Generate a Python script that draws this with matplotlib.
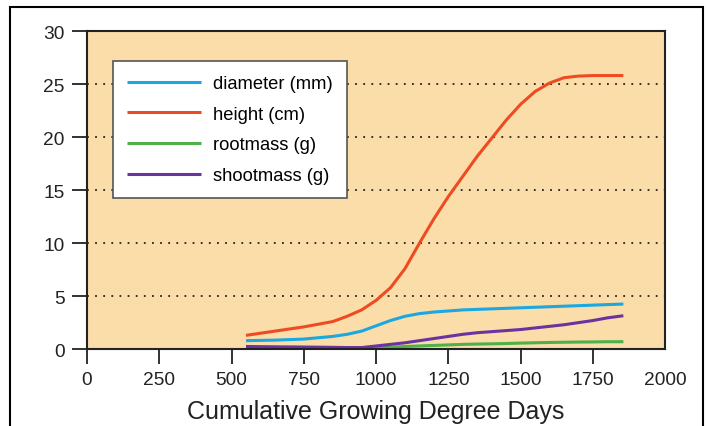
import matplotlib
matplotlib.use("Agg")
import matplotlib.pyplot as plt
from matplotlib.patches import Rectangle

plt.rcParams["font.family"] = ["Liberation Sans", "DejaVu Sans"]

# values
gdd = [550, 650, 750, 850, 900, 950, 1000, 1050, 1100, 1150, 1200, 1250, 1300,
       1350, 1400, 1450, 1500, 1550, 1600, 1650, 1700, 1750, 1800, 1855]
height = [1.3, 1.7, 2.1, 2.6, 3.1, 3.7, 4.6, 5.8, 7.6, 10.0, 12.3, 14.4, 16.3,
          18.2, 19.9, 21.6, 23.1, 24.3, 25.1, 25.6, 25.75, 25.8, 25.8, 25.8]
diameter = [0.8, 0.85, 0.95, 1.2, 1.4, 1.7, 2.2, 2.7, 3.1, 3.35, 3.5, 3.6, 3.7,
            3.75, 3.8, 3.85, 3.9, 3.95, 4.0, 4.05, 4.1, 4.15, 4.2, 4.25]
rootmass = [0.1, 0.1, 0.1, 0.1, 0.1, 0.1, 0.12, 0.18, 0.25, 0.3, 0.35, 0.4, 0.45,
            0.48, 0.5, 0.53, 0.57, 0.6, 0.63, 0.65, 0.67, 0.68, 0.7, 0.7]
shootmass = [0.25, 0.22, 0.2, 0.17, 0.15, 0.15, 0.3, 0.45, 0.6, 0.8, 1.0, 1.2, 1.4,
             1.55, 1.65, 1.75, 1.85, 2.0, 2.15, 2.3, 2.5, 2.7, 2.95, 3.15]

labels = ["diameter (mm)", "height (cm)", "rootmass (g)", "shootmass (g)"]
colors = ["#1BA7E0", "#EE4B22", "#4DB048", "#6B33A0"]

fig = plt.figure(figsize=(7.07, 4.27), dpi=100)
ax = fig.add_axes([0.123, 0.18, 0.818, 0.745])
ax.set_facecolor("#FADDA9")

for ys, lab, c in zip([diameter, height, rootmass, shootmass], labels, colors):
    ax.plot(gdd, ys, color=c, lw=2.2, label=lab, solid_capstyle="butt")

ax.set_xlim(0, 2000)
ax.set_ylim(0, 30)
ax.set_xticks(range(0, 2001, 250))
ax.set_yticks(range(0, 31, 5))
ax.xaxis.get_major_ticks()[-1].tick1line.set_visible(False)
for y in range(5, 30, 5):
    ax.axhline(y, color="#222222", lw=1.3, ls=(0, (1, 3.5)), zorder=0.5)

ax.tick_params(axis="both", direction="out", length=11, width=1.3, labelsize=13.8,
               colors="#222222", pad=5)
for s in ax.spines.values():
    s.set_linewidth(1.5)
    s.set_color("#222222")
ax.set_xlabel("Cumulative Growing Degree Days", fontsize=18, color="#222222", labelpad=8)

leg = ax.legend(loc="upper left", bbox_to_anchor=(0.045, 0.906), fontsize=13.2,
                frameon=True, fancybox=False, handlelength=4.0, handletextpad=0.65,
                labelspacing=0.74, borderpad=0.78, borderaxespad=0)
leg.get_frame().set_edgecolor("#555555")
leg.get_frame().set_linewidth(1.2)
leg.get_frame().set_alpha(1)

# outer frame around the figure
fig.patches.append(Rectangle((10 / 707, -0.05), 693 / 707, 1 - 8 / 427 + 0.05,
                             transform=fig.transFigure, fill=False,
                             edgecolor="black", lw=1.5))

fig.savefig("out.png", dpi=100)
